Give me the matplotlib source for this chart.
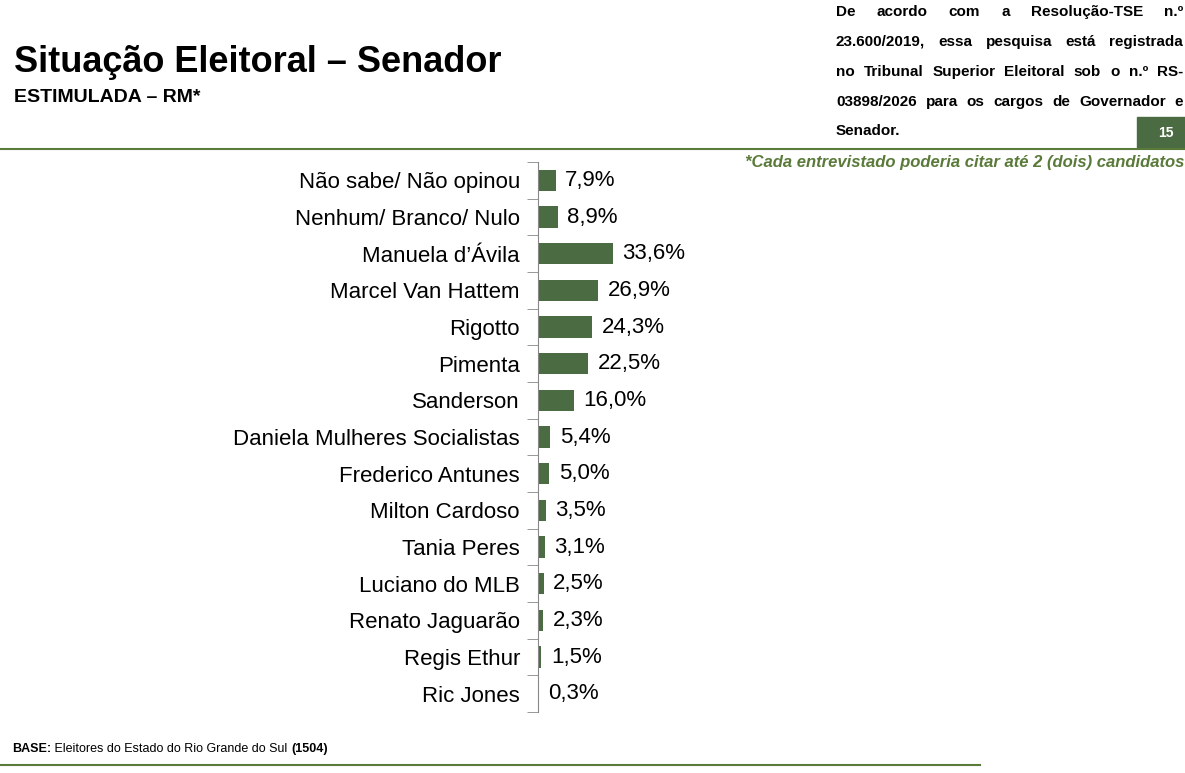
import matplotlib
matplotlib.use("Agg")
import matplotlib.pyplot as plt

names = ["Não sabe/ Não opinou", "Nenhum/ Branco/ Nulo", "Manuela d’Ávila",
         "Marcel Van Hattem", "Rigotto", "Pimenta", "Sanderson",
         "Daniela Mulheres Socialistas", "Frederico Antunes", "Milton Cardoso",
         "Tania Peres", "Luciano do MLB", "Renato Jaguarão", "Regis Ethur", "Ric Jones"]
values = [7.9, 8.9, 33.6, 26.9, 24.3, 22.5, 16.0, 5.4, 5.0, 3.5, 3.1, 2.5, 2.3, 1.5, 0.3]

W, H = 1185, 773
GREEN = "#4b6b43"
plt.rcParams["font.family"] = ["Liberation Sans", "DejaVu Sans"]
fig = plt.figure(figsize=(W / 100, H / 100), dpi=100)


def fx(px): return px / W
def fy(py): return 1 - py / H


ax = fig.add_axes([fx(538), fy(712), fx(1185) - fx(538), fy(162) - fy(712)])
y = list(range(len(names)))
ax.barh(y, values, height=0.58, color=GREEN)
for yi, v in zip(y, values):
    ax.text(v + 4.3, yi, f"{v:.1f}%".replace(".", ","), va="center", ha="left", fontsize=16)
ax.set_yticks(y)
ax.set_yticklabels(names, fontsize=16)
ax.set_yticks([i + 0.5 for i in range(-1, len(names))], minor=True)
ax.tick_params(axis="y", which="major", length=0, pad=13)
ax.tick_params(axis="y", which="minor", length=8, color="#888888", direction="out")
ax.set_ylim(len(names) - 0.5, -0.5)
ax.set_xlim(0, 290)
ax.set_xticks([])
for s in ["top", "right", "bottom"]:
    ax.spines[s].set_visible(False)
ax.spines["left"].set_color("#888888")

# header
fig.text(fx(14), fy(62), "Situação Eleitoral – Senador", fontsize=26, weight="bold", va="center")
fig.text(fx(14), fy(98), "ESTIMULADA – RM*", fontsize=14, weight="bold", va="center")
fig.add_artist(plt.Line2D([0, 1], [fy(149), fy(149)], color="#5a7a3a", lw=1.5))
fig.add_artist(plt.Line2D([0, fx(980)], [fy(765), fy(765)], color="#5a7a3a", lw=1.5))
fig.add_artist(plt.Rectangle((fx(1137), fy(148)), fx(48), fy(117) - fy(148), color=GREEN))
fig.text(fx(1166), fy(133), "15", color="white", fontsize=10, weight="bold", ha="center", va="center")
fig.text(fx(1184), fy(163), "*Cada entrevistado poderia citar até 2 (dois) candidatos",
         fontsize=12, weight="bold", style="italic", color="#5a7a3a", ha="right", va="center")

fig.canvas.draw()
r = fig.canvas.get_renderer()

# base line at the bottom
x = 12
for txt, wt in [("BASE:", "bold"), (" Eleitores do Estado do Rio Grande do Sul ", "normal"), ("(1504)", "bold")]:
    t = fig.text(fx(x), fy(749), txt, fontsize=9, weight=wt, va="center")
    x += t.get_window_extent(r).width

# justified note, top right
lines = ["De acordo com a Resolução-TSE n.º",
         "23.600/2019, essa pesquisa está registrada",
         "no Tribunal Superior Eleitoral sob o n.º RS-",
         "03898/2026 para os cargos de Governador e"]
x0, x1 = 836, 1183
for i, line in enumerate(lines):
    py = 12 + 30 * i
    words = line.split()
    ts = [fig.text(0, fy(py), w, fontsize=11, weight="bold", va="center") for w in words]
    ws = [t.get_window_extent(r).width for t in ts]
    gap = (x1 - x0 - sum(ws)) / (len(words) - 1)
    x = x0
    for t, w in zip(ts, ws):
        t.set_x(fx(x))
        x += w + gap
fig.text(fx(x0), fy(131), "Senador.", fontsize=11, weight="bold", va="center")

fig.savefig("out.png", dpi=100)
